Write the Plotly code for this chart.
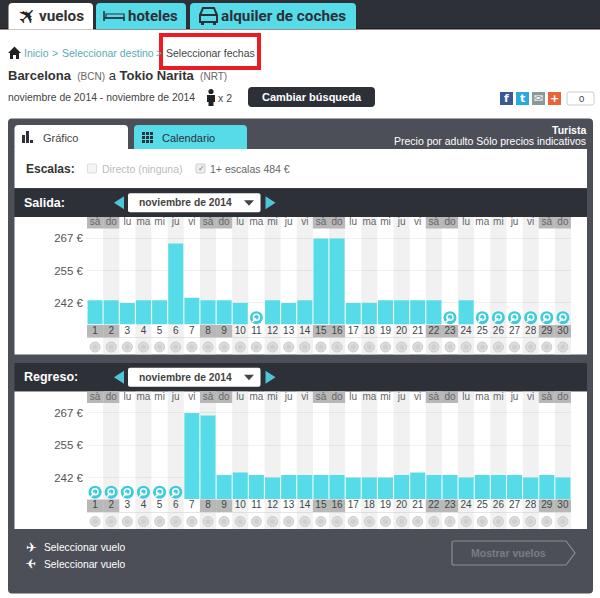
import plotly.graph_objects as go

days = list(range(1, 31))
weekday_names = ["sà", "do", "lu", "ma", "mi", "ju", "vi"]
day_labels = [weekday_names[(d - 1) % 7] for d in days]
weekend_days = [1, 2, 8, 9, 15, 16, 22, 23, 29, 30]

# None = no price, the page shows a magnifier there
outbound_prices = [243, 243, 242, 243, 243, 265, 244, 243, 243, 242,
                   None, 243, 242, 243, 267, 267, 242, 242, 243, 243,
                   243, 243, None, 243, None, None, None, None, None, None]
return_prices = [None, None, None, None, None, None, 267, 266, 243, 244,
                 243, 242, 243, 243, 243, 243, 242, 242, 242, 243,
                 244, 243, 243, 242, 243, 243, 243, 242, 243, 242]

price_ticks = [242, 254.5, 267]
price_labels = ["242 €", "255 €", "267 €"]
price_range = [233.7, 275.3]

CYAN = "#56dce9"
DARK = "#2e3038"
FRAME = "#4d4f58"
FONT = "Liberation Sans"

W, H = 600, 598
shapes = []
annotations = []
traces = []


def rect(x0, y0, x1, y1, fill, line=None, lw=1, layer="below", xref="x", yref="y"):
    shapes.append(dict(type="rect", x0=x0, y0=y0, x1=x1, y1=y1, fillcolor=fill, layer=layer,
                       xref=xref, yref=yref, line=dict(color=line, width=lw) if line else dict(width=0)))


def path(d, fill=None, line=None, lw=1, layer="below"):
    shapes.append(dict(type="path", path=d, xref="x", yref="y", layer=layer, fillcolor=fill or "rgba(0,0,0,0)",
                       line=dict(color=line, width=lw) if line else dict(width=0)))


def circle(cx, cy, r, fill):
    shapes.append(dict(type="circle", x0=cx - r, x1=cx + r, y0=cy - r, y1=cy + r, xref="x", yref="y",
                       fillcolor=fill, layer="below", line=dict(width=0)))


def tab(x0, x1, y0, y1, fill, r=4):
    path(f"M{x0},{y1} L{x0},{y0 + r} Q{x0},{y0} {x0 + r},{y0} L{x1 - r},{y0} Q{x1},{y0} {x1},{y0 + r} L{x1},{y1} Z", fill)


def rounded(x0, x1, y0, y1, fill, r=4, line=None, lw=1):
    path(f"M{x0},{y1 - r} L{x0},{y0 + r} Q{x0},{y0} {x0 + r},{y0} L{x1 - r},{y0} Q{x1},{y0} {x1},{y0 + r} "
         f"L{x1},{y1 - r} Q{x1},{y1} {x1 - r},{y1} L{x0 + r},{y1} Q{x0},{y1} {x0},{y1 - r} Z", fill, line, lw)


def label(x, y, text, size=11, color="#444444", anchor="left", family=FONT, angle=0):
    # left-anchored annotations land about a pixel to the right
    if anchor == "left":
        x -= 1
    annotations.append(dict(x=x, y=y, xref="x", yref="y", text=text, showarrow=False, xanchor=anchor,
                            yanchor="middle", borderpad=0, textangle=angle,
                            font=dict(family=family, size=size, color=color)))


# page background pieces
rect(0, 0, 600, 29, DARK)
rect(0, 28, 600, 29.5, "#2a1a1e")
tab(8.5, 93, 3, 29.5, "white")
tab(96, 186, 3, 29, CYAN)
tab(190, 356, 3, 29, CYAN)
label(27, 16, "✈", 22, "#222222", "center", "DejaVu Sans", angle=-45)
label(39, 16, "<b>vuelos</b>", 15.3, "#333333", family="Roboto")
label(128, 16, "<b>hoteles</b>", 15, "#2e3038", family="Roboto")
label(221, 16, "<b>alquiler de coches</b>", 15.3, "#2e3038", family="Roboto")
# bed
path("M104,11 L104,21 M104,18 L124,18 L124,21", None, "#2e3038", 1.6)
path("M106,14 L124,14 L124,18 L106,18 Z", None, "#2e3038", 1.2)
# car
path("M200,15 L203,8 L214,8 L217,15 L217,22 L200,22 Z", None, "#2e3038", 2)
path("M200,15 L217,15", None, "#2e3038", 2)
rect(201, 22, 204, 25, "#2e3038")
rect(213, 22, 216, 25, "#2e3038")

# breadcrumb
path("M8,53 L14.5,46.5 L21,53 L19,53 L19,59 L16,59 L16,55 L13,55 L13,59 L10,59 L10,53 Z", "#222222")
label(24, 53, "Inicio", 10.5, "#5aa9b5")
label(52, 53, ">", 10.5, "#5aa9b5")
label(62, 53, "Seleccionar destino", 10.5, "#5aa9b5")
label(156, 53, ">", 10.5, "#5aa9b5")
label(165.5, 53, "Seleccionar fechas", 10.5, "#444444")
rect(161, 35, 259, 68, "rgba(0,0,0,0)", "#ec1c24", 4, layer="above")

label(8, 75.5, "<b>Barcelona</b> <span style='font-size:10px;color:#666666'> (BCN)</span> a "
               "<b>Tokio Narita</b> <span style='font-size:10px;color:#666666'> (NRT)</span>", 13, "#333333")
label(8, 97, "noviembre de 2014 - noviembre de 2014", 10.4, "#444444")
circle(211, 91.5, 2.6, "#222222")
path("M207,95 L215,95 L215,102 L213.5,102 L213.5,106 L208.5,106 L208.5,102 L207,102 Z", "#222222")
label(218, 97.5, "x 2", 10.5, "#444444")
rounded(248, 375, 87, 107, DARK, 4)
label(311.5, 97, "<b>Cambiar búsqueda</b>", 11, "white", "center")

# share buttons
for x0, col, mark in [(500, "#3b5998", "<b>f</b>"), (516, "#2aa9e0", "<b>t</b>"),
                      (532, "#8a9a9a", "✉"), (548, "#e8623a", "<b>+</b>")]:
    rect(x0, 92, x0 + 13, 105, col)
    label(x0 + 6.5, 98.5, mark, 11, "white", "center", "DejaVu Sans")
rounded(567, 594, 92, 105, "white", 2, "#cccccc")
label(581, 98.5, "0", 9.5, "#444444", "center")

# main frame
rounded(8, 593, 118.5, 593.5, FRAME, 4)
rect(14.5, 149, 587, 188, "white")
tab(14.5, 128, 125, 149.5, "white")
tab(134, 247, 125, 149, CYAN)
rect(22, 135, 25, 143, "#2e3038")
rect(26, 131, 29, 143, "#2e3038")
rect(30, 140, 33, 143, "#2e3038")
for gx in (142, 146, 150):
    for gy in (132, 136, 140):
        rect(gx, gy, gx + 3, gy + 3, "#2e3038")
label(43, 137.5, "Gráfico", 11, "#444444")
label(162, 137.5, "Calendario", 11, "#2e3038")
label(587, 130, "<b>Turista</b>", 10.5, "white", "right")
label(587, 141, "Precio por adulto Sólo precios indicativos", 10.5, "white", "right")

label(26, 168.5, "<b>Escalas:</b>", 12, "#333333")
rounded(87.5, 96.5, 164, 173, "#f4f4f4", 1, "#dddddd")
label(102, 168.5, "Directo (ninguna)", 10.5, "#bbbbbb")
rounded(196, 205, 164, 173, "#eeeeee", 1, "#cccccc")
label(197.5, 168.5, "✓", 8, "#777777", family="DejaVu Sans")
label(210, 168.5, "1+ escalas 484 €", 10.5, "#666666")

# month headers and white chart panels
PANEL_TOPS = (217, 391.5)
PANEL_H = 137.5
for head_y, title, top in [(188.5, "Salida:", PANEL_TOPS[0]), (363, "Regreso:", PANEL_TOPS[1])]:
    rect(14.5, head_y, 587, top, DARK)
    rect(14.5, top, 587, top + PANEL_H, "white")
    mid = (head_y + top) / 2
    label(24, mid, f"<b>{title}</b>", 12.5, "white")
    path(f"M114,{mid} L124,{mid - 6.5} L124,{mid + 6.5} Z", "#4fc6d8")
    path(f"M265.5,{mid - 6.5} L275.5,{mid} L265.5,{mid + 6.5} Z", "#4fc6d8")
    rounded(128, 260.5, mid - 9.5, mid + 9.5, "white", 2)
    label(139, mid, "<b>noviembre de 2014</b>", 10.3, "#444444")
    path(f"M244,{mid - 2.5} L254,{mid - 2.5} L249,{mid + 3} Z", "#444444")

# footer
label(31, 547, "✈", 13, "white", "center", "DejaVu Sans")
label(31, 564, "✈", 13, "white", "center", "DejaVu Sans", angle=180)
label(44, 547, "Seleccionar vuelo", 10.3, "white")
label(44, 564, "Seleccionar vuelo", 10.3, "white")
path("M454,541 L566,541 L575,553 L566,565 L454,565 Q452,565 452,563 L452,543 Q452,541 454,541 Z",
     None, "#8b8d93", 1.2)
label(508, 552.5, "<b>Mostrar vuelos</b>", 10.5, "#7b7d84", "center")


def add_panel(prices, rows, bars):
    row_ref = "y" + rows
    shown = [p if p is not None else 0 for p in prices]
    # alternate column stripes, weekend cells, divider under the day numbers
    for d in days:
        if d % 2 == 0:
            rect(d - 0.5, 0, d + 0.5, PANEL_H, "#f1f1f1", xref="x2", yref=row_ref)
    for d in weekend_days:
        rect(d - 0.5, 0, d + 0.5, 11.5, "#b8b8b8", xref="x2", yref=row_ref)
        rect(d - 0.5, 108, d + 0.5, 120.5, "#b8b8b8", xref="x2", yref=row_ref)
    rect(0.5, 120.5, 30.5, 121, "#cccccc", xref="x2", yref=row_ref)

    traces.append(go.Bar(x=days, y=shown, marker=dict(color=CYAN, line=dict(width=0)), width=0.93,
                         xaxis="x2", yaxis="y" + bars, hoverinfo="skip"))
    traces.append(go.Scatter(x=days, y=[5.7] * 30, text=day_labels, mode="text", xaxis="x2", yaxis=row_ref,
                             textfont=dict(family=FONT, size=10, color="#666666"), hoverinfo="skip"))
    traces.append(go.Scatter(x=days, y=[114] * 30, text=[str(d) for d in days], mode="text", xaxis="x2", yaxis=row_ref,
                             textfont=dict(family=FONT, size=10, color="#444444"), hoverinfo="skip"))
    traces.append(go.Scatter(x=days, y=[130] * 30, mode="markers", xaxis="x2", yaxis=row_ref, hoverinfo="skip",
                             marker=dict(size=10, color="#dcdcdc", line=dict(color="#cbcbcb", width=1))))
    traces.append(go.Scatter(x=days, y=[130] * 30, mode="markers", xaxis="x2", yaxis=row_ref, hoverinfo="skip",
                             marker=dict(size=5, color="#cfcfcf")))
    # magnifier on days with no price
    empty = [d for d, p in zip(days, prices) if p is None]
    traces.append(go.Scatter(x=empty, y=[100.7] * len(empty), mode="markers", xaxis="x2", yaxis=row_ref,
                             hoverinfo="skip", marker=dict(size=13, color="#3fcbdc")))
    traces.append(go.Scatter(x=empty, y=[100.2] * len(empty), mode="markers", xaxis="x2", yaxis=row_ref,
                             hoverinfo="skip", marker=dict(symbol="circle-open", size=6, color="white",
                                                           line=dict(color="white", width=1.6))))
    traces.append(go.Scatter(x=[d - 0.14 for d in empty], y=[103.2] * len(empty), mode="markers", xaxis="x2", yaxis=row_ref,
                             hoverinfo="skip", marker=dict(symbol="line-ne", size=4, line=dict(color="white", width=1.6))))


add_panel(outbound_prices, "2", "3")
add_panel(return_prices, "4", "5")


def dom(top, bottom):
    return [1 - bottom / H, 1 - top / H]


def row_axis(top):
    return dict(domain=dom(top, top + PANEL_H), range=[PANEL_H, 0], visible=False, anchor="x2", fixedrange=True)


def price_axis(top, baseline):
    return dict(domain=dom(top, baseline), range=price_range, anchor="x2", tickvals=price_ticks, ticktext=price_labels,
                showgrid=True, gridcolor="rgba(0,0,0,0.05)", zeroline=False, showline=False, ticks="",
                ticklabelstandoff=3, tickfont=dict(family=FONT, size=11.5, color="#555555"), fixedrange=True)


fig = go.Figure(traces)
fig.update_layout(
    width=W, height=H, margin=dict(l=0, r=0, t=0, b=0), showlegend=False, paper_bgcolor="white",
    plot_bgcolor="rgba(0,0,0,0)", shapes=shapes, annotations=annotations, hovermode=False,
    xaxis=dict(domain=[0, 1], range=[0, W], visible=False, fixedrange=True),
    yaxis=dict(domain=[0, 1], range=[H, 0], visible=False, fixedrange=True),
    xaxis2=dict(domain=[87 / W, 571 / W], range=[0.5, 30.5], visible=False, anchor="y2", fixedrange=True),
    yaxis2=row_axis(PANEL_TOPS[0]),
    yaxis3=price_axis(PANEL_TOPS[0], 324.3),
    yaxis4=row_axis(PANEL_TOPS[1]),
    yaxis5=price_axis(PANEL_TOPS[1], 499),
)
fig.write_html("out.html", config=dict(displayModeBar=False),
               post_script="document.body.style.margin='0';document.body.style.overflow='hidden';")
